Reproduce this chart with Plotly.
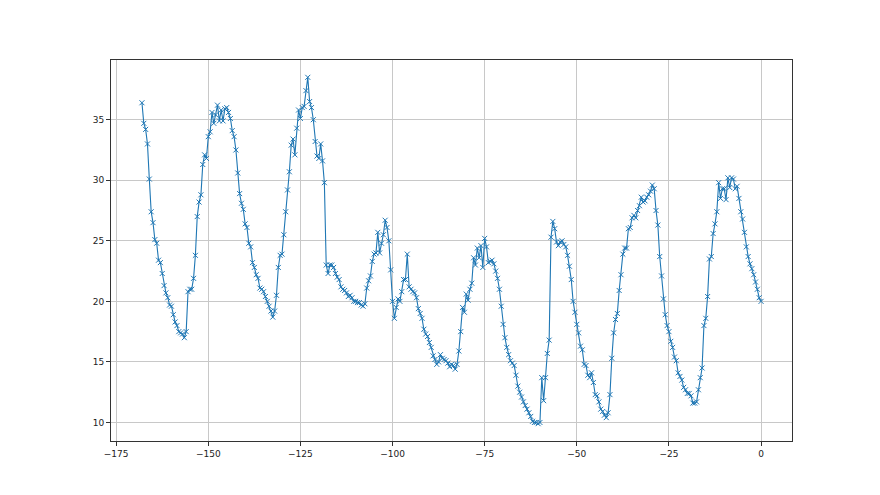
import plotly.graph_objects as go
import numpy as np

# half-hourly readings over the last 168 hours
hours = np.arange(-168, 0.5, 0.5)

temperature = [
    36.4, 34.7, 34.2, 33.0, 30.1, 27.4, 26.5, 25.1, 24.8, 23.4,
    23.2, 22.3, 21.3, 20.7, 20.3, 19.7, 19.6, 18.9, 18.3, 18.0,
    17.5, 17.4, 17.3, 17.0, 17.5, 20.8, 21.0, 21.0, 21.9, 23.8,
    27.0, 28.2, 28.8, 31.3, 32.1, 31.8, 33.6, 34.0, 35.6, 34.7,
    35.4, 36.2, 34.9, 35.8, 34.9, 35.9, 36.0, 35.6, 35.1, 34.1,
    33.6, 32.5, 30.6, 28.9, 28.1, 27.6, 26.4, 26.1, 24.8, 24.5,
    23.2, 22.8, 22.2, 21.9, 21.1, 21.0, 20.8, 20.4, 20.0, 19.6,
    19.2, 18.7, 19.2, 20.5, 22.8, 23.8, 23.9, 25.5, 27.4, 29.2,
    30.7, 32.9, 33.4, 32.1, 34.3, 35.8, 35.1, 36.0, 36.1, 37.4,
    38.5, 36.5, 36.0, 35.0, 33.2, 32.0, 31.8, 33.0, 31.6, 29.8,
    23.0, 22.3, 23.0, 23.0, 22.8, 22.3, 22.0, 21.8, 21.2, 21.0,
    20.9, 20.7, 20.4, 20.5, 20.3, 20.0, 20.0, 19.9, 19.9, 19.7,
    19.6, 19.8, 21.1, 21.7, 22.1, 23.3, 23.9, 24.0, 25.7, 24.0,
    24.8, 25.5, 26.7, 26.1, 25.0, 22.6, 20.0, 18.6, 19.5, 20.2,
    20.0, 20.8, 21.8, 21.8, 23.9, 21.2, 21.0, 20.8, 20.7, 20.3,
    19.4, 19.0, 18.6, 17.7, 17.3, 17.1, 16.6, 16.2, 15.5, 15.2,
    14.8, 15.0, 15.6, 15.3, 15.2, 15.1, 14.9, 14.6, 14.8, 14.7,
    14.4, 14.8, 15.9, 17.5, 19.5, 19.1, 20.6, 20.1, 21.0, 21.5,
    23.6, 23.0, 24.4, 23.6, 24.6, 22.8, 25.2, 24.5, 23.2, 23.3,
    23.4, 23.1, 22.5, 21.9, 21.0, 19.6, 18.1, 17.0, 16.2, 15.6,
    15.1, 14.9, 14.7, 13.9, 13.0, 12.5, 12.1, 11.7, 11.4, 11.1,
    10.8, 10.5, 10.1, 10.0, 10.0, 9.9, 10.0, 13.7, 11.8, 13.7,
    15.7, 16.8, 25.3, 26.6, 26.0, 24.9, 24.6, 24.9, 25.0, 24.7,
    24.5, 23.8, 22.9, 21.8, 20.0, 19.1, 18.1, 17.4, 16.3, 16.0,
    14.8, 14.7, 13.9, 13.7, 14.1, 13.3, 12.3, 12.2, 11.7, 11.1,
    10.9, 10.6, 10.4, 10.8, 12.3, 15.3, 17.4, 18.5, 19.0, 20.9,
    22.2, 23.9, 24.4, 24.4, 26.0, 26.1, 26.9, 27.1, 26.9, 27.5,
    27.9, 28.6, 28.2, 28.3, 28.6, 28.8, 29.1, 29.6, 29.3, 27.5,
    26.3, 23.7, 22.1, 20.2, 18.9, 18.0, 17.5, 16.7, 16.2, 15.4,
    15.1, 14.1, 13.8, 13.5, 12.9, 12.7, 12.4, 12.4, 12.2, 11.6,
    11.6, 11.7, 12.7, 13.7, 14.5, 18.0, 18.6, 20.4, 23.5, 23.7,
    25.6, 26.4, 27.4, 29.8, 28.5, 29.3, 29.3, 28.4, 30.2, 29.4,
    30.2, 30.1, 29.3, 29.5, 28.5, 27.4, 26.8, 25.7, 24.5, 23.7,
    23.1, 22.7, 22.2, 21.6, 21.0, 20.3, 20.0,
]

x_ticks = [-175, -150, -125, -100, -75, -50, -25, 0]
y_ticks = [10, 15, 20, 25, 30, 35]

# matplotlib-style 5% padding around the data
x_pad = (hours.max() - hours.min()) * 0.05
y_pad = (max(temperature) - min(temperature)) * 0.05
x_range = [hours.min() - x_pad, hours.max() + x_pad]
y_range = [min(temperature) - y_pad, max(temperature) + y_pad]

fig = go.Figure()
fig.add_trace(
    go.Scatter(
        x = hours,
        y = temperature,
        mode = "lines+markers",
        line = dict(color = "#1f77b4", width = 1.1),
        marker = dict(
            symbol = "x-thin",
            size = 5,
            line = dict(color = "#1f77b4", width = 1),
        ),
        showlegend = False,
    )
)

axis_style = dict(
    showline = True,
    linecolor = "#333333",
    linewidth = 1,
    mirror = True,
    showgrid = True,
    gridcolor = "#c8c8c8",
    gridwidth = 1,
    zeroline = False,
    ticks = "outside",
    ticklen = 4,
    tickcolor = "#333333",
    tickfont = dict(family = "DejaVu Sans", size = 9, color = "#222222"),
)

fig.update_xaxes(range = x_range, tickvals = x_ticks, **axis_style)
fig.update_yaxes(range = y_range, tickvals = y_ticks, **axis_style)

# the page body adds an 8px offset, so margins are shifted to compensate
fig.update_layout(
    width = 880,
    height = 495,
    margin = dict(l = 103, r = 96, t = 52, b = 62),
    paper_bgcolor = "white",
    plot_bgcolor = "white",
)

fig.write_html("out.html")
